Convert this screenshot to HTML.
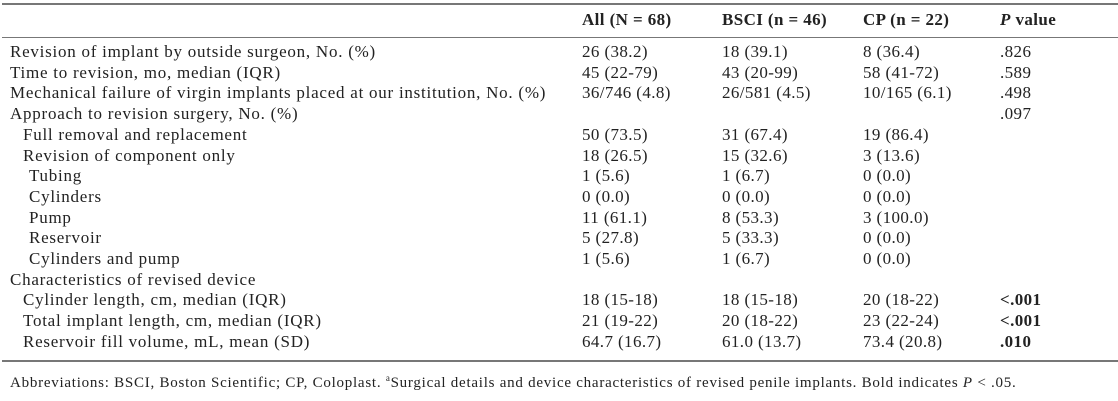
<!DOCTYPE html>
<html><head><meta charset="utf-8">
<style>
html,body{margin:0;padding:0;background:#fff;}
#t{position:relative;width:1118px;height:401px;font-family:"Liberation Serif",serif;font-size:17px;letter-spacing:0.4px;color:#222;overflow:hidden;}
.r{position:absolute;left:0;width:1118px;height:18px;line-height:18px;white-space:nowrap;}
.c{position:absolute;top:0;}
.l{left:10px}.a{left:582px}.b{left:722px}.p{left:863px}.v{left:1000px}
.hr{position:absolute;left:2px;right:0;background:#777;}
</style></head><body>
<div id="t">
<div class="hr" style="top:3px;height:2px"></div>
<div class="r" style="top:11px;font-weight:bold">
<span class="c a">All (N = 68)</span>
<span class="c b">BSCI (n = 46)</span>
<span class="c p">CP (n = 22)</span>
<span class="c v"><i>P</i> value</span>
</div>
<div class="hr" style="top:37px;height:1px"></div>
<div id="rows"></div>
<div class="hr" style="top:360px;height:2px"></div>
<div class="r" style="top:369px;font-size:15px;letter-spacing:0.75px;left:10px">Abbreviations: BSCI, Boston Scientific; CP, Coloplast. <sup style="font-size:9px">a</sup>Surgical details and device characteristics of revised penile implants. Bold indicates <i>P</i> &lt; .05.</div>
</div>
<script>
const rows=[
["Revision of implant by outside surgeon, No. (%)",0,"26 (38.2)","18 (39.1)","8 (36.4)",".826",0],
["Time to revision, mo, median (IQR)",0,"45 (22-79)","43 (20-99)","58 (41-72)",".589",0],
["Mechanical failure of virgin implants placed at our institution, No. (%)",0,"36/746 (4.8)","26/581 (4.5)","10/165 (6.1)",".498",0],
["Approach to revision surgery, No. (%)",0,"","","",".097",0],
["Full removal and replacement",1,"50 (73.5)","31 (67.4)","19 (86.4)","",0],
["Revision of component only",1,"18 (26.5)","15 (32.6)","3 (13.6)","",0],
["Tubing",2,"1 (5.6)","1 (6.7)","0 (0.0)","",0],
["Cylinders",2,"0 (0.0)","0 (0.0)","0 (0.0)","",0],
["Pump",2,"11 (61.1)","8 (53.3)","3 (100.0)","",0],
["Reservoir",2,"5 (27.8)","5 (33.3)","0 (0.0)","",0],
["Cylinders and pump",2,"1 (5.6)","1 (6.7)","0 (0.0)","",0],
["Characteristics of revised device",0,"","","","",0],
["Cylinder length, cm, median (IQR)",1,"18 (15-18)","18 (15-18)","20 (18-22)","<.001",1],
["Total implant length, cm, median (IQR)",1,"21 (19-22)","20 (18-22)","23 (22-24)","<.001",1],
["Reservoir fill volume, mL, mean (SD)",1,"64.7 (16.7)","61.0 (13.7)","73.4 (20.8)",".010",1]
];
const host=document.getElementById('rows');
rows.forEach((d,i)=>{
 const r=document.createElement('div');
 r.className='r';r.style.top=(43+i*20.7)+'px';
 
 
 const cls=['l','a','b','p','v'];
 const vals=[d[0],d[2],d[3],d[4],d[5]];
 vals.forEach((v,j)=>{
  const s=document.createElement('span');
  s.className='c '+cls[j];
  
  
  if(j===0){s.style.left=(10+[0,13,19][d[1]])+'px';s.style.letterSpacing='0.75px';}
  if(j===4&&d[6])s.style.fontWeight='bold';
  s.textContent=v;r.appendChild(s);
 });
 host.appendChild(r);
});
</script>
</body></html>
